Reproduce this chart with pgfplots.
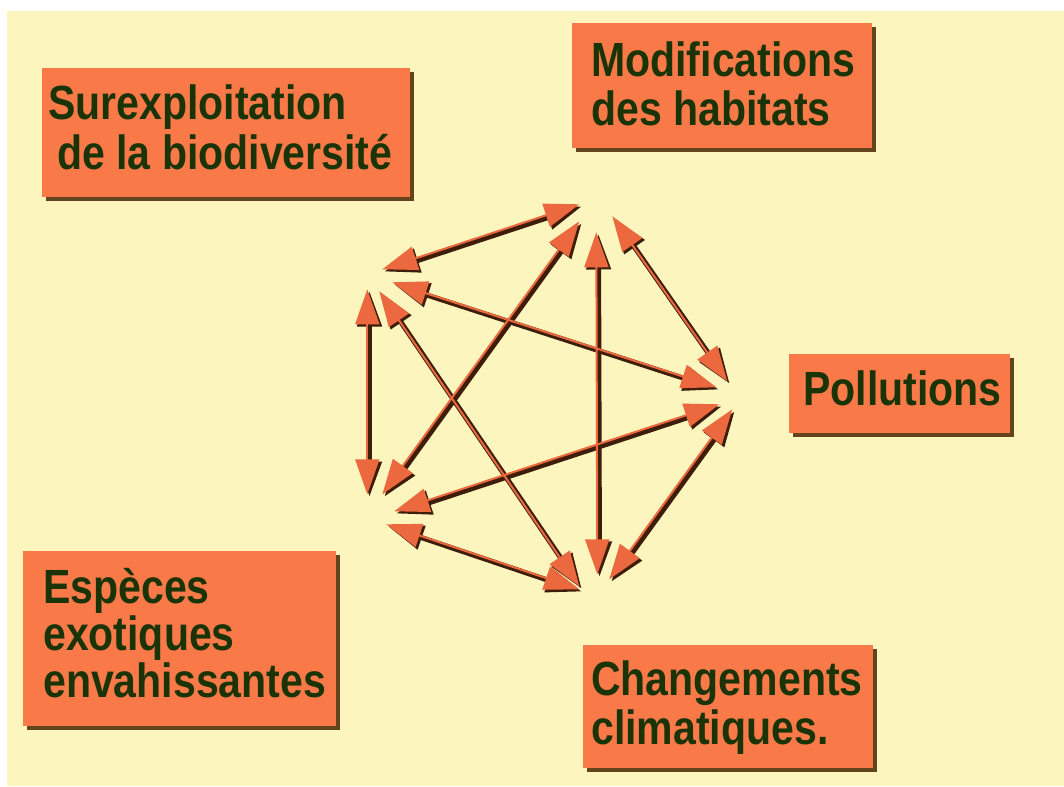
\documentclass[border=0pt]{standalone}
\usepackage{pgfplots}
\pgfplotsset{compat=1.18}
\usepackage{graphicx}
\usepackage{fontspec}
\setmainfont{Liberation Sans}
\usetikzlibrary{arrows.meta}
\definecolor{bgyellow}{RGB}{252,245,190}
\definecolor{boxorange}{RGB}{249,122,72}
\definecolor{boxshadow}{RGB}{100,68,28}
\definecolor{txtgreen}{RGB}{26,52,8}
\definecolor{arrdark}{RGB}{62,30,10}
\definecolor{arrorange}{RGB}{236,104,62}
\newcommand{\lbl}[1]{\fontsize{48}{52}\selectfont\bfseries\scalebox{0.855}[1]{#1}}
\pgfplotsset{
  darkarr/.style={color=arrdark, line width=5pt, xshift=1.5pt, yshift=-1.5pt,
    {Triangle[length=35pt,width=24pt]}-{Triangle[length=35pt,width=24pt]}},
  orarr/.style={color=arrorange, line width=2pt, xshift=-0.7pt, yshift=0.7pt,
    {Triangle[length=35pt,width=24pt]}-{Triangle[length=35pt,width=24pt]}},
  boxsh/.style={fill=boxshadow, draw=none, xshift=4pt, yshift=-4pt},
  boxfill/.style={fill=boxorange, draw=none},
}
\begin{document}
\begin{tikzpicture}
\begin{axis}[
  scale only axis, width=1064pt, height=786pt,
  xmin=0, xmax=1064, ymin=0, ymax=786, y dir=reverse,
  hide axis, clip=false,
]
\coordinate (sw) at (axis cs:0,786);
\coordinate (ne) at (axis cs:1064,0);
% background
\addplot[fill=white, draw=none] coordinates {(0,0)(1064,0)(1064,786)(0,786)} -- cycle;
\addplot[fill=bgyellow, draw=none] coordinates {(7,11)(1064,11)(1064,786)(7,786)} -- cycle;

% boxes: shadows
\addplot[boxsh] coordinates {(42,68)(410,68)(410,197)(42,197)} -- cycle;
\addplot[boxsh] coordinates {(572,23)(872,23)(872,148)(572,148)} -- cycle;
\addplot[boxsh] coordinates {(789,354)(1010,354)(1010,433)(789,433)} -- cycle;
\addplot[boxsh] coordinates {(23,551)(336,551)(336,726)(23,726)} -- cycle;
\addplot[boxsh] coordinates {(583,645)(873,645)(873,768)(583,768)} -- cycle;
% boxes
\addplot[boxfill] coordinates {(42,68)(410,68)(410,197)(42,197)} -- cycle;
\addplot[boxfill] coordinates {(572,23)(872,23)(872,148)(572,148)} -- cycle;
\addplot[boxfill] coordinates {(789,354)(1010,354)(1010,433)(789,433)} -- cycle;
\addplot[boxfill] coordinates {(23,551)(336,551)(336,726)(23,726)} -- cycle;
\addplot[boxfill] coordinates {(583,645)(873,645)(873,768)(583,768)} -- cycle;

% arrows: dark layer
\addplot[darkarr] coordinates {(580,205)(383,270)};
\addplot[darkarr] coordinates {(580,222)(383,495)};
\addplot[darkarr] coordinates {(597,233)(598,575)};
\addplot[darkarr] coordinates {(613,217)(728,382)};
\addplot[darkarr] coordinates {(393,283)(717,388)};
\addplot[darkarr] coordinates {(380,292)(580,587)};
\addplot[darkarr] coordinates {(368,290)(368,495)};
\addplot[darkarr] coordinates {(720,405)(395,512)};
\addplot[darkarr] coordinates {(733,410)(610,580)};
\addplot[darkarr] coordinates {(387,525)(580,590)};
% arrows: orange layer
\addplot[orarr] coordinates {(580,205)(383,270)};
\addplot[orarr] coordinates {(580,222)(383,495)};
\addplot[orarr] coordinates {(597,233)(598,575)};
\addplot[orarr] coordinates {(613,217)(728,382)};
\addplot[orarr] coordinates {(393,283)(717,388)};
\addplot[orarr] coordinates {(380,292)(580,587)};
\addplot[orarr] coordinates {(368,290)(368,495)};
\addplot[orarr] coordinates {(720,405)(395,512)};
\addplot[orarr] coordinates {(733,410)(610,580)};
\addplot[orarr] coordinates {(387,525)(580,590)};

% labels
\tikzset{lab/.style={anchor=base west, inner sep=0pt, text=txtgreen}}
\node[lab] at (axis cs:48,120) {\lbl{Surexploitation}};
\node[lab] at (axis cs:57,170) {\lbl{de la biodiversité}};
\node[lab] at (axis cs:591,77) {\lbl{Modifications}};
\node[lab] at (axis cs:591,126) {\lbl{des habitats}};
\node[lab] at (axis cs:803,405) {\lbl{Pollutions}};
\node[lab] at (axis cs:43,603) {\lbl{Espèces}};
\node[lab] at (axis cs:43,650) {\lbl{exotiques}};
\node[lab] at (axis cs:43,697) {\lbl{envahissantes}};
\node[lab] at (axis cs:591,695) {\lbl{Changements}};
\node[lab] at (axis cs:591,744) {\lbl{climatiques.}};
\end{axis}
\pgfresetboundingbox
\path (sw) rectangle (ne);
\end{tikzpicture}
\end{document}
